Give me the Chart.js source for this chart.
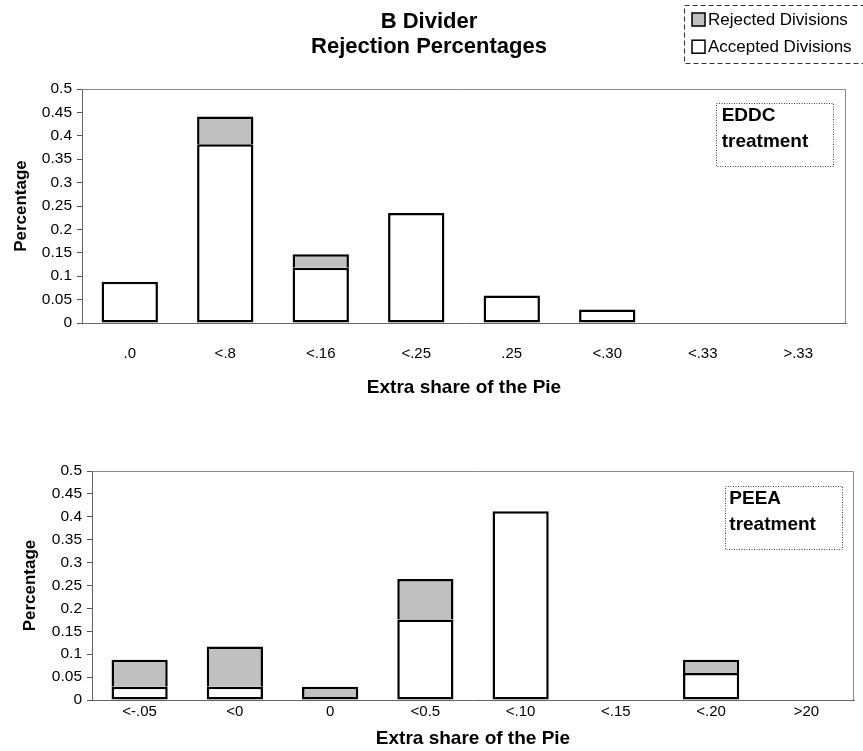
<!DOCTYPE html>
<html>
<head>
<meta charset="utf-8">
<title>B Divider – Rejection Percentages</title>
<script src="https://cdn.jsdelivr.net/npm/chart.js@4/dist/chart.umd.min.js"></script>
<style>
  html, body { margin: 0; padding: 0; background: #ffffff; }
  #figure { position: relative; width: 863px; height: 751px; overflow: hidden; }
  #figure canvas { position: absolute; left: 0; }
  #eddc { top: 0; }
  #peea { top: 400px; }
</style>
</head>
<body>
<div id="figure">
  <canvas id="eddc" width="863" height="400"></canvas>
  <canvas id="peea" width="863" height="351"></canvas>
</div>
<script>
// ---- data: share of divisions per extra-share bin ----
const eddcCategories = ['.0', '<.8', '<.16', '<.25', '.25', '<.30', '<.33', '>.33'];
const eddcAccepted   = [0.088, 0.382, 0.118, 0.235, 0.059, 0.029, 0, 0];
const eddcRejected   = [0, 0.059, 0.029, 0, 0, 0, 0, 0];

const peeaCategories = ['<-.05', '<0', '0', '<0.5', '<.10', '<.15', '<.20', '>20'];
const peeaAccepted   = [0.029, 0.029, 0, 0.176, 0.412, 0, 0.059, 0];
const peeaRejected   = [0.059, 0.088, 0.029, 0.088, 0, 0, 0.029, 0];

const yTickMin = 0, yTickMax = 0.5, yTickStep = 0.05;

const FONT = '"Liberation Sans", Arial, Helvetica, sans-serif';

// light frame along the top and right of the plot area
const plotFrame = {
  id: 'plotFrame',
  beforeDatasetsDraw(chart) {
    const { ctx, chartArea: a } = chart;
    ctx.save();
    ctx.strokeStyle = '#8a8a8a';
    ctx.lineWidth = 1;
    ctx.beginPath();
    ctx.moveTo(a.left, Math.round(a.top) + 0.5);
    ctx.lineTo(Math.round(a.right) - 0.5, Math.round(a.top) + 0.5);
    ctx.lineTo(Math.round(a.right) - 0.5, a.bottom);
    ctx.stroke();
    ctx.restore();
  }
};

// dotted note box naming the treatment, in the upper right of the plot
const treatmentNote = {
  id: 'treatmentNote',
  afterDatasetsDraw(chart, args, opts) {
    if (!opts || !opts.lines) return;
    const { ctx, chartArea: a } = chart;
    const w = 117, h = 63;
    const x = Math.round(a.right - opts.right - w);
    const y = Math.round(a.top + opts.top);
    ctx.save();
    ctx.strokeStyle = '#444';
    ctx.lineWidth = 1;
    ctx.setLineDash([1, 1.5]);
    ctx.strokeRect(x + 0.5, y + 0.5, w, h);
    ctx.setLineDash([]);
    ctx.fillStyle = '#000';
    ctx.font = 'bold 19px ' + FONT;
    ctx.textBaseline = 'middle';
    ctx.textAlign = 'left';
    opts.lines.forEach((t, i) => ctx.fillText(t, x + opts.textX, y + 12.5 + i * 26));
    ctx.restore();
  }
};

// figure title and the dashed legend box at the top of the page
const figureHeader = {
  id: 'figureHeader',
  afterDraw(chart) {
    const { ctx } = chart;
    ctx.save();
    ctx.fillStyle = '#000';
    ctx.font = 'bold 22px ' + FONT;
    ctx.textAlign = 'center';
    ctx.textBaseline = 'middle';
    ctx.fillText('B Divider', 429, 22);
    ctx.fillText('Rejection Percentages', 429, 47);

    // legend
    ctx.strokeStyle = '#333';
    ctx.lineWidth = 1;
    ctx.setLineDash([5, 3]);
    ctx.strokeRect(684.5, 5.5, 190, 58);
    ctx.setLineDash([]);
    const items = chart.data.datasets.slice().reverse();
    ctx.font = '17px ' + FONT;
    ctx.textAlign = 'left';
    items.forEach((ds, i) => {
      const cy = 19.5 + i * 27.2;
      ctx.fillStyle = ds.backgroundColor;
      ctx.fillRect(692, cy - 6.5, 13, 13);
      ctx.strokeStyle = '#000';
      ctx.lineWidth = 1.5;
      ctx.strokeRect(692, cy - 6.5, 13, 13);
      ctx.fillStyle = '#000';
      ctx.fillText(ds.label, 708, cy + 0.5);
    });
    ctx.restore();
  }
};

function buildPanel(canvas, categories, accepted, rejected, L, extraPlugins) {
  return new Chart(canvas, {
    type: 'bar',
    data: {
      labels: categories,
      datasets: [
        {
          label: 'Accepted Divisions',
          data: accepted,
          backgroundColor: '#ffffff',
          borderColor: '#000000',
          borderWidth: 2.5,
          borderSkipped: false
        },
        {
          label: 'Rejected Divisions',
          data: rejected,
          backgroundColor: '#c0c0c0',
          borderColor: '#000000',
          borderWidth: 2.5,
          // share the divider line with the accepted segment below
          borderSkipped: c => (accepted[c.dataIndex] > 0 ? 'start' : false)
        }
      ]
    },
    options: {
      responsive: false,
      animation: false,
      events: [],
      layout: { padding: { top: L.top, right: L.right, left: 0, bottom: 0 } },
      datasets: { bar: { barPercentage: 0.59, categoryPercentage: 1, inflateAmount: 0 } },
      plugins: {
        legend: { display: false },
        title: { display: false },
        tooltip: { enabled: false },
        treatmentNote: L.note
      },
      scales: {
        x: {
          stacked: true,
          grid: { display: false, drawTicks: false, tickLength: 0 },
          border: { display: true, color: '#666', width: 1 },
          ticks: {
            color: '#000',
            font: { family: FONT, size: 15 },
            padding: L.tickPad,
            maxRotation: 0,
            autoSkip: false
          },
          title: {
            display: true,
            text: 'Extra share of the Pie',
            color: '#000',
            font: { family: FONT, size: 19, weight: 'bold' },
            padding: { top: 0, bottom: L.xTitlePad }
          },
          afterFit(s) { s.height = L.xHeight; }
        },
        y: {
          stacked: true,
          min: yTickMin,
          max: yTickMax,
          grid: { drawOnChartArea: false, drawTicks: true, tickLength: 5, color: '#555' },
          border: { display: true, color: '#666', width: 1 },
          ticks: {
            stepSize: yTickStep,
            color: '#000',
            font: { family: FONT, size: 15.5 },
            padding: 5,
            callback: v => String(Math.round(v * 100) / 100)
          },
          title: {
            display: true,
            text: 'Percentage',
            color: '#000',
            font: { family: FONT, size: 17, weight: 'bold' },
            padding: { top: L.yTitlePad, bottom: 0 }
          },
          afterFit(s) { s.width = L.yWidth; }
        }
      }
    },
    plugins: [plotFrame, treatmentNote].concat(extraPlugins || [])
  });
}

buildPanel(document.getElementById('eddc'), eddcCategories, eddcAccepted, eddcRejected, {
  top: 89, right: 17, yWidth: 82, xHeight: 77, tickPad: 22, xTitlePad: 1, yTitlePad: 11,
  note: { lines: ['EDDC', 'treatment'], right: 13, top: 14, textX: 5.7 }
}, [figureHeader]);

buildPanel(document.getElementById('peea'), peeaCategories, peeaAccepted, peeaRejected, {
  top: 71, right: 9, yWidth: 92, xHeight: 51, tickPad: 2.5, xTitlePad: 0.6, yTitlePad: 20.5,
  note: { lines: ['PEEA', 'treatment'], right: 12, top: 14.7, textX: 4.3 }
});
</script>
</body>
</html>
